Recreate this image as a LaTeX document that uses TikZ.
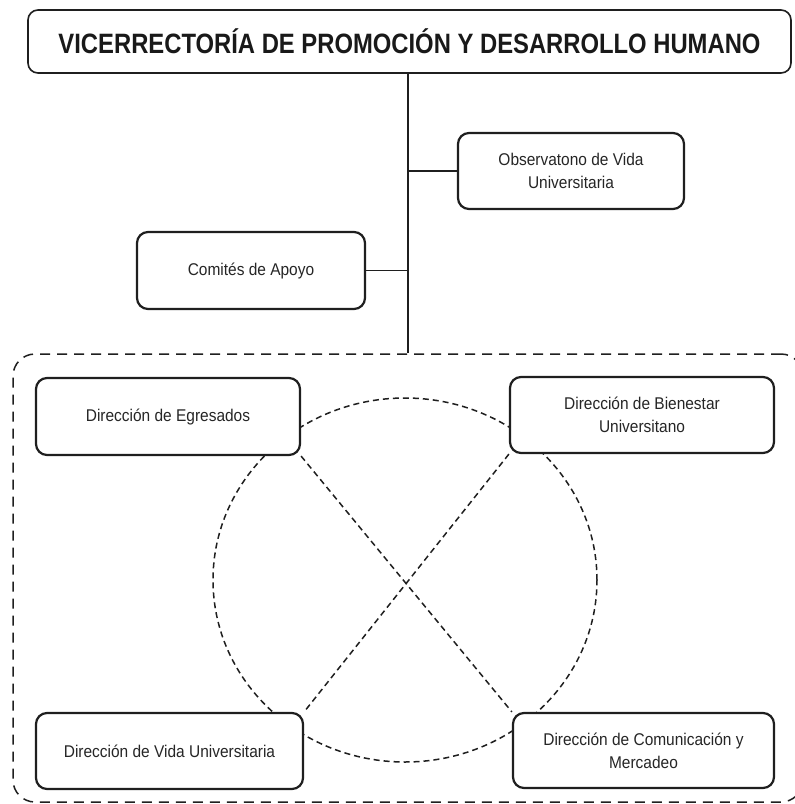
\documentclass[tikz,border=0pt]{standalone}
\usepackage{fontspec}
\setmainfont{Liberation Sans}
\newfontfamily\boxfont[FakeStretch=0.91]{Liberation Sans}
\usepackage{graphicx}
\begin{document}
\begin{tikzpicture}[x=1pt,y=-1pt,
  ink/.style={color={black!88}},
  unit/.style={ink, draw, line width=2.2pt, rounded corners=11pt, fill=white,
     align=center, inner sep=0pt, text=black!85,
     font=\boxfont\fontsize{17}{23}\selectfont},
  headbox/.style={ink, draw, line width=1.6pt, rounded corners=10pt, fill=white,
     inner sep=0pt, text=black!90},
  framebox/.style={ink, draw, line width=1.5pt, rounded corners=22pt,
     dash pattern=on 10pt off 7pt, inner sep=0pt},
  link/.style={ink, line width=1.8pt},
  dashlink/.style={ink, line width=1.5pt, dash pattern=on 6pt off 4pt}
]
\useasboundingbox (0,0) rectangle (795,804);

% dashed frame
\node[framebox, minimum width=790pt, minimum height=448pt] (frame) at (408,578) {};

% dashed circle behind the units
\draw[dashlink] (405,580) ellipse [x radius=192pt, y radius=182pt];

% title
\node[headbox, minimum width=763pt, minimum height=63pt] (title) at (409.5,41.5)
  {\resizebox{702pt}{\height}{\fontsize{28}{28}\selectfont\bfseries VICERRECTORÍA DE PROMOCIÓN Y DESARROLLO HUMANO}};

% staff units
\node[unit, minimum width=226pt, minimum height=76pt] (obs) at (571,171)
  {Observatono de Vida\\Universitaria};
\node[unit, minimum width=228pt, minimum height=77pt] (com) at (251,270.5)
  {Comités de Apoyo};

% directions
\node[unit, minimum width=264pt, minimum height=77pt] (egr) at (168,416.5)
  {Dirección de Egresados};
\node[unit, minimum width=264pt, minimum height=76pt] (bien) at (642,415)
  {Dirección de Bienestar\\Universitano};
\node[unit, minimum width=267pt, minimum height=76pt] (vida) at (169.5,751)
  {Dirección de Vida Universitaria};
\node[unit, minimum width=261pt, minimum height=75pt] (comu) at (643.5,750.5)
  {Dirección de Comunicación y\\Mercadeo};

% trunk and branches
\coordinate (top) at (408,73);
\draw[link] (top) -- (top |- frame.north);
\draw[link] (obs.west) -- (obs.west -| top);
\draw[link] (com.east) -- (com.east -| top);

% diagonals
\draw[dashlink] (egr.south east) -- (comu.north west);
\draw[dashlink] (bien.south west) -- (vida.north east);
\end{tikzpicture}
\end{document}
